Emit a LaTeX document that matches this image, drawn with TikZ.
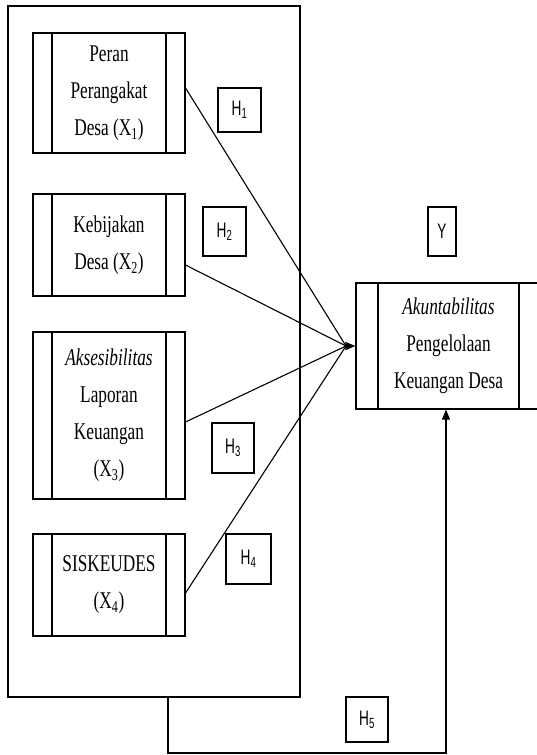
\documentclass[tikz,border=0pt]{standalone}
\usepackage{fontspec}
\newfontfamily\tnr[FakeStretch=0.72]{Liberation Serif}
\newfontfamily\hsans[FakeStretch=0.65]{Liberation Sans}
\usetikzlibrary{arrows.meta}
\tikzset{
  ln/.style={line width=1.1pt},
  varbox/.style={draw, ln, inner sep=0pt, align=center,
    font={\tnr\fontsize{24}{37}\selectfont},
    path picture={
      \draw[ln] ([xshift=#1]path picture bounding box.north west) -- ([xshift=#1]path picture bounding box.south west);
      \draw[ln] ([xshift=-#1]path picture bounding box.north east) -- ([xshift=-#1]path picture bounding box.south east);
    }},
  hbox/.style={draw, ln, inner sep=0pt, font={\hsans\fontsize{21}{22}\selectfont}},
  tip/.style={-{Triangle[length=10pt,width=8pt]}},
}
\begin{document}
\begin{tikzpicture}[x=1pt,y=-1pt]
\useasboundingbox (0,0) rectangle (537,755);
\clip (0,0) rectangle (537,755);
\node[draw, ln, minimum width=292pt, minimum height=691pt, inner sep=0pt] (frame) at (154,351.5) {};
\node[varbox=19pt, minimum width=152pt, minimum height=120pt] (b1) at (109,93) {Peran\\Perangakat\\Desa (X\textsubscript{1})};
\node[varbox=19pt, minimum width=152pt, minimum height=102pt] (b2) at (109,245) {Kebijakan\\Desa (X\textsubscript{2})};
\node[varbox=19pt, minimum width=152pt, minimum height=167pt] (b3) at (109,415.5) {\itshape Aksesibilitas\\Laporan\\Keuangan\\(X\textsubscript{3})};
\node[varbox=19pt, minimum width=152pt, minimum height=102pt] (b4) at (109,585) {SISKEUDES\\(X\textsubscript{4})};
\node[varbox=22pt, minimum width=185pt, minimum height=126pt] (Y) at (448.5,346) {\textit{Akuntabilitas}\\Pengelolaan\\Keuangan Desa};
\node[hbox, minimum width=43pt, minimum height=44pt] (h1) at (239.5,110) {H\textsubscript{1}};
\node[hbox, minimum width=43pt, minimum height=49pt] (h2) at (224.5,231.5) {H\textsubscript{2}};
\node[hbox, minimum width=42pt, minimum height=50pt] (h3) at (233,448) {H\textsubscript{3}};
\node[hbox, minimum width=45pt, minimum height=50pt] (h4) at (248.5,559) {H\textsubscript{4}};
\node[hbox, minimum width=42pt, minimum height=45pt] (h5) at (367,719.5) {H\textsubscript{5}};
\node[hbox, minimum width=28pt, minimum height=49pt] (ylab) at (442,231.5) {Y};
\coordinate (conv) at (346,346);
\draw[ln] ([yshift=5pt]b1.east) -- (conv);
\draw[ln] ([yshift=-20pt]b2.east) -- (conv);
\draw[ln] ([yshift=-6.5pt]b3.east) -- (conv);
\draw[ln] ([yshift=-8pt]b4.east) -- (conv);
\draw[ln, tip] (conv) -- (Y.west);
\coordinate (low) at (168,753);
\draw[ln, tip] ([xshift=14pt]frame.south) |- ([xshift=-2.5pt]Y.south |- low) -- ([xshift=-2.5pt]Y.south);
\end{tikzpicture}
\end{document}
